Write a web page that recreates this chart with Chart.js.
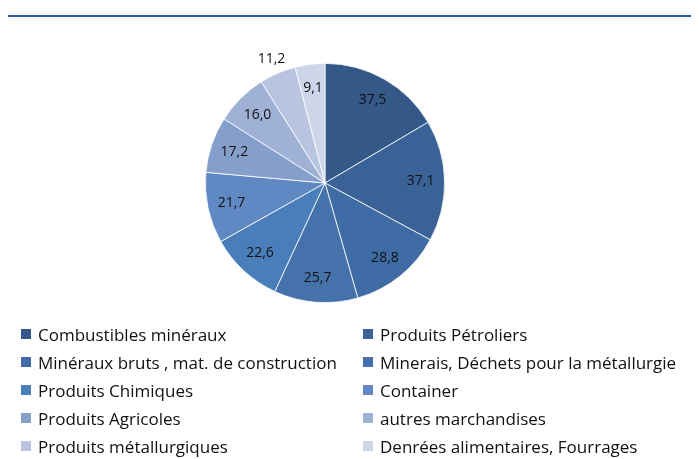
<!DOCTYPE html>
<html>
<head>
<meta charset="utf-8">
<script src="https://cdn.jsdelivr.net/npm/chart.js@4"></script>
<style>
  html, body { margin: 0; padding: 0; background: #fff; }
  #wrap { position: relative; width: 699px; height: 459px; overflow: hidden; }
  #rule { position: absolute; left: 8px; top: 15px; width: 683px; height: 2px; background: #2b5ba8; }
  #pie { position: absolute; left: 0; top: 0; }
  #legend {
    position: absolute; left: 21px; top: 320px;
    display: grid; grid-template-columns: 342px 320px; grid-auto-rows: 28px;
    font-family: "Open Sans", "Liberation Sans", sans-serif; font-size: 17px; color: #111;
  }
  #legend div { display: flex; align-items: center; white-space: nowrap; }
  #legend span.box { width: 10px; height: 10px; margin-right: 7px; flex: none; }
</style>
</head>
<body>
<div id="wrap">
  <div id="rule"></div>
  <canvas id="pie" width="699" height="459"></canvas>
  <div id="legend"></div>
</div>
<script>
// categories, clockwise from 12 o'clock
const categories = [
  'Combustibles minéraux',
  'Produits Pétroliers',
  'Minéraux bruts , mat. de construction',
  'Minerais, Déchets pour la métallurgie',
  'Produits Chimiques',
  'Container',
  'Produits Agricoles',
  'autres marchandises',
  'Produits métallurgiques',
  'Denrées alimentaires, Fourrages'
];
const values = [37.5, 37.1, 28.8, 25.7, 22.6, 21.7, 17.2, 16.0, 11.2, 9.1];
const colors = [
  '#345888', '#3a6296', '#3f6ca5', '#4572ab', '#4a7ebb',
  '#6089c3', '#859fcb', '#9fb1d5', '#b9c5e0', '#cdd6e9'
];

// values drawn inside the slices, comma decimal like the original
const sliceLabels = {
  id: 'sliceLabels',
  afterDatasetsDraw(chart) {
    const ctx = chart.ctx;
    const meta = chart.getDatasetMeta(0);
    ctx.save();
    ctx.font = '14px "Open Sans", "Liberation Sans", sans-serif';
    ctx.fillStyle = '#111';
    ctx.textAlign = 'center';
    ctx.textBaseline = 'middle';
    meta.data.forEach((arc, i) => {
      const p = arc.getProps(['x', 'y', 'startAngle', 'endAngle', 'outerRadius'], true);
      const mid = (p.startAngle + p.endAngle) / 2;
      // the small 11,2 slice has its label pushed outside
      const f = i === 8 ? 1.13 : 0.8;
      const x = p.x + Math.cos(mid) * p.outerRadius * f;
      const y = p.y + Math.sin(mid) * p.outerRadius * f;
      ctx.fillText(values[i].toFixed(1).replace('.', ','), x, y);
    });
    ctx.restore();
  }
};

new Chart(document.getElementById('pie').getContext('2d'), {
  type: 'pie',
  data: {
    labels: categories,
    datasets: [{
      data: values,
      backgroundColor: colors,
      borderColor: '#ffffff',
      borderWidth: 0.8
    }]
  },
  options: {
    responsive: false,
    animation: false,
    layout: { padding: { left: 205, right: 254, top: 63, bottom: 156 } },
    plugins: { legend: { display: false }, tooltip: { enabled: false } }
  },
  plugins: [sliceLabels]
});

// two-column legend, row by row
const legend = document.getElementById('legend');
categories.forEach((c, i) => {
  const item = document.createElement('div');
  item.innerHTML = `<span class="box" style="background:${colors[i]}"></span>${c}`;
  legend.appendChild(item);
});
</script>
</body>
</html>
